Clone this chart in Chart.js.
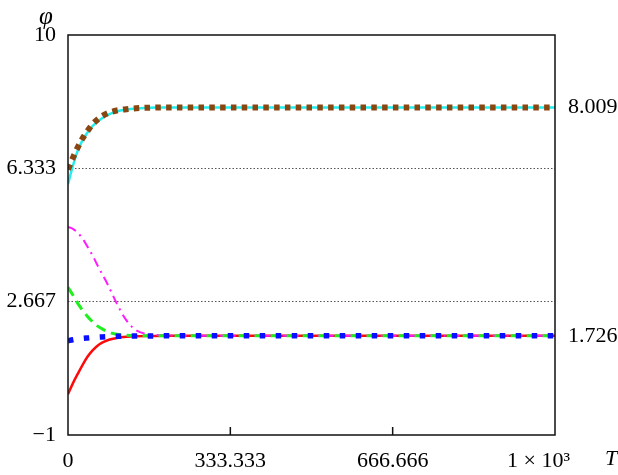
<!DOCTYPE html>
<html><head><meta charset="utf-8">
<script src="https://cdn.jsdelivr.net/npm/chart.js@4"></script>
<style>html,body{margin:0;padding:0;background:#fff;} canvas{display:block;}</style>
</head><body>
<canvas id="c" width="618" height="475"></canvas>
<script>
// ---- data ----
const T       = [0, 10, 20, 30, 40, 50, 60, 70, 80, 90, 100, 120, 140, 160, 180, 200, 250, 300, 400, 500, 600, 700, 800, 900, 1000];
const cyan    = [5.90, 6.40, 6.82, 7.11, 7.32, 7.49, 7.61, 7.71, 7.79, 7.85, 7.90, 7.95, 7.98, 7.995, 8.004, 8.009, 8.009, 8.009, 8.009, 8.009, 8.009, 8.009, 8.009, 8.009, 8.009];
const brown   = [6.30, 6.62, 6.91, 7.16, 7.36, 7.54, 7.67, 7.77, 7.84, 7.89, 7.925, 7.96, 7.985, 7.998, 8.005, 8.009, 8.009, 8.009, 8.009, 8.009, 8.009, 8.009, 8.009, 8.009, 8.009];
const magenta = [4.72, 4.67, 4.56, 4.40, 4.18, 3.95, 3.68, 3.43, 3.18, 2.90, 2.62, 2.15, 1.88, 1.78, 1.75, 1.74, 1.73, 1.726, 1.726, 1.726, 1.726, 1.726, 1.726, 1.726, 1.726];
const green   = [3.06, 2.85, 2.62, 2.43, 2.26, 2.12, 2.00, 1.92, 1.85, 1.80, 1.77, 1.745, 1.735, 1.73, 1.726, 1.726, 1.726, 1.726, 1.726, 1.726, 1.726, 1.726, 1.726, 1.726, 1.726];
const blue    = [1.59, 1.62, 1.64, 1.655, 1.667, 1.678, 1.688, 1.696, 1.703, 1.709, 1.714, 1.72, 1.723, 1.725, 1.726, 1.726, 1.726, 1.726, 1.726, 1.726, 1.726, 1.726, 1.726, 1.726, 1.726];
const red     = [0.12, 0.42, 0.68, 0.93, 1.15, 1.32, 1.45, 1.54, 1.60, 1.64, 1.67, 1.70, 1.715, 1.722, 1.725, 1.726, 1.726, 1.726, 1.726, 1.726, 1.726, 1.726, 1.726, 1.726, 1.726];

const xTickValues = [0, 333.333, 666.666, 1000];
const xTickLabels = ['0', '333.333', '666.666', '1 × 10³      '];
const yTickValues = [-1, 2.667, 6.333, 10];
const yTickLabels = ['−1', '2.667', '6.333', '10'];
const rightTickValues = [1.726, 8.009];
const rightTickLabels = ['1.726', '8.009'];
const yGridValues = [2.667, 6.333];

const FONT = {family: '"Liberation Serif", "DejaVu Serif", serif', size: 22};

function pts(vals) { return T.map((t, i) => ({x: t, y: vals[i]})); }

const framePlugin = {
  id: 'frame',
  afterDatasetsDraw(chart) {
    const {ctx, chartArea: a, scales} = chart;
    ctx.save();
    ctx.strokeStyle = '#111';
    ctx.lineWidth = 1.5;
    ctx.strokeRect(a.left, a.top, a.right - a.left, a.bottom - a.top);
    ctx.beginPath();
    for (const v of xTickValues) {
      const px = scales.x.getPixelForValue(v);
      if (px > a.left + 2 && px < a.right - 2) {
        ctx.moveTo(px, a.bottom);
        ctx.lineTo(px, a.bottom - 8);
      }
    }
    ctx.stroke();
    ctx.fillStyle = '#000';
    ctx.textAlign = 'center';
    ctx.textBaseline = 'middle';
    ctx.font = 'italic 25px "Liberation Serif", serif';
    ctx.fillText('φ', 46, 17);
    ctx.font = 'italic 22px "Liberation Serif", serif';
    ctx.fillText('T', 611, 459);
    ctx.restore();
  }
};

function ds(data, color, width, dash) {
  return {data: pts(data), borderColor: color, borderWidth: width, borderDash: dash || [],
          borderCapStyle: 'butt', pointRadius: 0, cubicInterpolationMode: 'monotone', fill: false};
}

new Chart(document.getElementById('c'), {
  type: 'line',
  data: {
    datasets: [
      ds(blue, '#0a10ff', 5.5, [5.5, 10.5]),
      ds(brown, '#8a4610', 6, [5.5, 5.3]),
      ds(green, '#1ef01e', 3, [10, 6]),
      ds(magenta, '#ff1aff', 2, [9, 5, 2, 5]),
      ds(cyan, '#22eeee', 2.5),
      ds(red, '#ff0a0a', 2.5)
    ]
  },
  options: {
    responsive: false,
    animation: false,
    layout: {padding: {top: 35, left: 0, right: 0, bottom: 0}},
    plugins: {legend: {display: false}, tooltip: {enabled: false}},
    scales: {
      x: {
        type: 'linear', position: 'bottom', min: 0, max: 1000,
        afterBuildTicks: s => { s.ticks = xTickValues.map(v => ({value: v})); },
        afterFit: s => { s.height = 40; },
        ticks: {callback: (v, i) => xTickLabels[i], autoSkip: false, maxRotation: 0, font: FONT, color: '#000', padding: 5},
        grid: {display: false},
        border: {display: false}
      },
      y: {
        type: 'linear', position: 'left', min: -1, max: 10,
        afterBuildTicks: s => { s.ticks = yTickValues.map(v => ({value: v})); },
        afterFit: s => { s.width = 68; },
        ticks: {callback: (v, i) => yTickLabels[i], autoSkip: false, font: FONT, color: '#000', padding: 12},
        grid: {drawTicks: false, lineWidth: 1,
               color: c => (c.tick && yGridValues.includes(c.tick.value)) ? '#555' : 'rgba(0,0,0,0)'},
        border: {display: false, dash: [1.5, 2]}
      },
      y2: {
        type: 'linear', position: 'right', min: -1, max: 10,
        afterBuildTicks: s => { s.ticks = rightTickValues.map(v => ({value: v})); },
        afterFit: s => { s.width = 63; },
        ticks: {callback: (v, i) => rightTickLabels[i], autoSkip: false, font: FONT, color: '#000', padding: 5},
        grid: {display: false},
        border: {display: false}
      }
    }
  },
  plugins: [framePlugin]
});
</script>
</body></html>
